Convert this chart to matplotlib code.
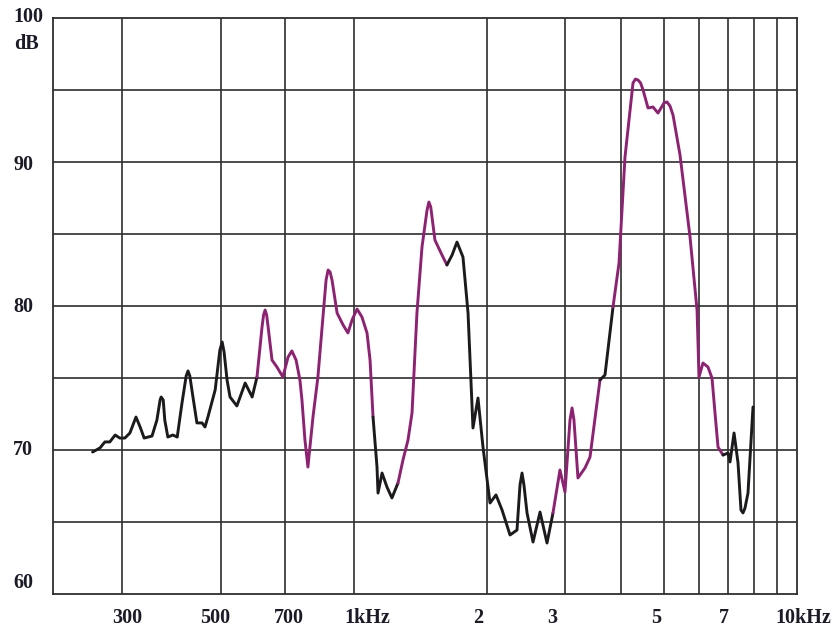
import numpy as np
import matplotlib
matplotlib.use("Agg")
import matplotlib.pyplot as plt
from matplotlib.transforms import ScaledTranslation

# ---------------- data ----------------
freq_hz = [257, 267, 274, 281, 289, 296, 304, 312, 322, 329, 336, 350, 359, 365, 367, 371, 374,
           380, 390, 399, 409, 418, 422, 426, 433, 442, 454, 461, 468, 486, 498, 504, 509, 517, 525, 544,
           568, 589, 604, 620, 625, 630, 635, 640, 653, 670, 691, 710, 724, 740, 755, 763, 775,
           787, 808, 829, 851, 865, 874, 883, 892, 916, 945, 969, 990, 1016, 1042, 1070, 1087, 1104,
           1127, 1133, 1157, 1187, 1218, 1257, 1290, 1324, 1352, 1387, 1424, 1462, 1476, 1490, 1523, 1580,
           1621, 1665, 1708, 1762, 1809, 1856, 1905, 1955, 2028, 2092, 2159, 2250, 2333, 2370, 2395, 2419, 2458,
           2536, 2630, 2727, 2813, 2917, 2994, 3073, 3106, 3137, 3203, 3322, 3410, 3591, 3686, 3843, 3965, 4090,
           4264, 4319, 4377, 4435, 4493, 4610, 4731, 4855, 5010, 5087, 5168, 5250, 5444, 5735, 5948, 6008, 6134, 6296, 6429,
           6530, 6633, 6808, 6987, 7060, 7209, 7360, 7474, 7553, 7631, 7751, 7956]
level_db = [69.86, 70.14, 70.56, 70.56, 71.04, 70.83, 70.83, 71.18, 72.29, 71.60, 70.83, 70.97, 72.08, 73.47, 73.68, 73.47, 72.08,
            70.90, 71.04, 70.90, 73.26, 75.14, 75.49, 75.14, 73.68, 71.88, 71.88, 71.60, 72.29, 74.17, 76.94, 77.50, 76.81, 74.86, 73.68, 73.06,
            74.65, 73.68, 75.07, 78.54, 79.38, 79.72, 79.38, 78.54, 76.25, 75.76, 75.07, 76.46, 76.88, 76.25, 74.86, 73.47, 70.69,
            68.82, 72.29, 75.07, 79.24, 81.81, 82.50, 82.36, 81.81, 79.51, 78.68, 78.13, 79.03, 79.79, 79.24, 78.13, 76.25, 72.29,
            68.82, 67.01, 68.40, 67.43, 66.67, 67.71, 69.31, 70.69, 72.57, 79.51, 84.10, 86.67, 87.22, 86.88, 84.58, 83.54,
            82.85, 83.54, 84.44, 83.40, 79.51, 71.53, 73.61, 70.21, 66.32, 66.88, 65.83, 64.10, 64.44, 67.57, 68.40, 67.57, 65.63,
            63.61, 65.69, 63.54, 65.63, 68.61, 67.08, 72.08, 72.92, 72.08, 68.06, 68.75, 69.51, 74.86, 75.21, 79.93, 82.99, 90.35,
            95.49, 95.76, 95.69, 95.49, 95.00, 93.75, 93.82, 93.40, 94.10, 94.17, 93.89, 93.26, 90.49, 84.79, 79.72, 75.07, 76.04, 75.76, 75.00,
            72.57, 70.21, 69.65, 69.79, 69.17, 71.18, 69.10, 65.83, 65.63, 65.97, 67.01, 72.99]

x_tick_values = [300, 500, 700, 1000, 2000, 3000, 5000, 7000, 10000]
x_tick_labels = ["300", "500", "700", "1kHz", "2", "3", "5", "7", "10kHz"]
x_grid_values = [300, 500, 700, 1000, 2000, 3000, 4000, 5000, 6000, 7000, 8000, 9000]
y_tick_values = [100, 90, 80, 70, 60]
y_tick_labels = ["100", "90", "80", "70", "60"]
y_grid_values = [65, 70, 75, 80, 85, 90, 95]

# ---------------- style ----------------
BLACK = "#1d1a1e"
MAGENTA = "#8e2272"
# frequency bands where the pen colour changes (style only)
color_bands = [(0, 600, BLACK), (600, 1100, MAGENTA), (1100, 1250, BLACK),
               (1250, 1620, MAGENTA), (1620, 2850, BLACK), (2850, 3600, MAGENTA),
               (3600, 3900, BLACK), (3900, 6800, MAGENTA), (6800, 20000, BLACK)]
GRID = "#2e2e2e"
TXT = "#1b1b28"
FONT = dict(family="Liberation Serif", weight="bold", size=14.5)

fig = plt.figure(figsize=(8.36, 6.32), dpi=100)
W, H = 836, 632
ax = fig.add_axes([53 / W, 1 - 594 / H, (797 - 53) / W, (594 - 18) / H])
ax.set_xscale("log")
ax.set_xlim(209.2, 10000)
ax.set_ylim(60, 100)

for f in x_grid_values:
    ax.axvline(f, color=GRID, lw=1.2, zorder=1)
for v in y_grid_values:
    ax.axhline(v, color=GRID, lw=1.2, zorder=1)
for s in ax.spines.values():
    s.set_color(GRID)
    s.set_linewidth(1.3)

# curve, coloured by band
fr = np.array(freq_hz, dtype=float)
db = np.array(level_db, dtype=float)

def band_color(f):
    for lo, hi, c in color_bands:
        if lo <= f < hi:
            return c
    return BLACK

mids = np.sqrt(fr[:-1] * fr[1:])
seg_cols = [band_color(m) for m in mids]
start = 0
for i in range(1, len(seg_cols) + 1):
    if i == len(seg_cols) or seg_cols[i] != seg_cols[start]:
        ax.plot(fr[start:i + 1], db[start:i + 1], color=seg_cols[start], lw=2.1,
                solid_joinstyle="round", solid_capstyle="round", zorder=3)
        start = i

# x tick labels
ax.xaxis.set_minor_locator(matplotlib.ticker.NullLocator())
ax.set_xticks(x_tick_values)
ax.set_xticklabels(x_tick_labels, fontdict=FONT, color=TXT)
ax.tick_params(axis="x", length=0, pad=10)
x_offsets_px = [5, -5, 4, 13, -9, -13, -7, -5, 6]
for lab, dx in zip(ax.get_xticklabels(), x_offsets_px):
    lab.set_transform(lab.get_transform() + ScaledTranslation(dx / 100, 0, fig.dpi_scale_trans))

# y labels
ax.set_yticks([])
ytrans = ax.get_yaxis_transform()
y_offsets_px = [1, -3, -1, 0, 11]
for v, lab, dy in zip(y_tick_values, y_tick_labels, y_offsets_px):
    ax.text(-40 / 744, v, lab, transform=ytrans + ScaledTranslation(0, dy / 100, fig.dpi_scale_trans),
            ha="left", va="center", color=TXT, **FONT)
ax.text(-39 / 744, 100, "dB", transform=ytrans + ScaledTranslation(0, -26 / 100, fig.dpi_scale_trans),
        ha="left", va="center", color=TXT, **FONT)

fig.savefig("out.png", dpi=100)
